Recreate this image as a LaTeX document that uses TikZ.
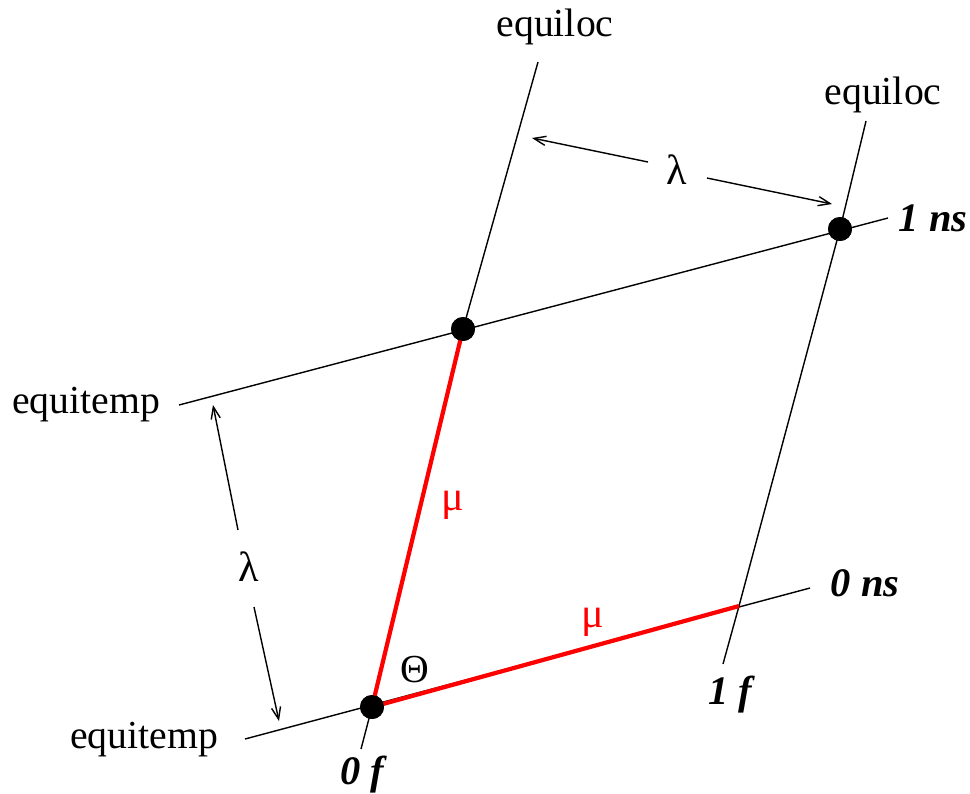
\documentclass[tikz,border=0pt]{standalone}
\usepackage{fontspec}
\setmainfont{Liberation Serif}
\usetikzlibrary{arrows.meta}

\begin{document}
\begin{tikzpicture}[x=0.01cm,y=-0.01cm]
\tikzset{
  dotnode/.style={circle,fill=black,minimum size=6.8pt,inner sep=0pt},
  gridline/.style={line width=0.4pt},
  muline/.style={red,line width=1.2pt},
  lamarrow/.style={-{Straight Barb[length=3.4pt,width=2.6pt]},line width=0.4pt},
  txtlabel/.style={inner sep=0pt,font=\fontsize{11.3}{13}\selectfont},
  ticklabel/.style={inner sep=0pt,font=\fontsize{11.5}{13}\selectfont\bfseries\itshape},
  greeklabel/.style={inner sep=0pt,font=\fontsize{12}{14}\selectfont}
}
\useasboundingbox (0,0) rectangle (970,793);
% ends of the equitemp and equiloc lines
\coordinate (t0_w) at (245,739);
\coordinate (t0_e) at (810,588);
\coordinate (t1_w) at (179,405);
\coordinate (t1_e) at (888,218);
\coordinate (l0_s) at (361,749);
\coordinate (l0_n) at (538,62);
\coordinate (l1_s) at (723,664);
\coordinate (l1_n) at (866,121);
\coordinate (x_10) at (739,606);
% dots
\node[dotnode] (d_00) at (372,707) {};
\node[dotnode] (d_01) at (463,329) {};
\node[dotnode] (d_11) at (840,229) {};
% labels
\node[txtlabel] (lb_loc0) at (555,27) {equiloc};
\node[txtlabel] (lb_loc1) at (883,95) {equiloc};
\node[txtlabel] (lb_temp1) at (86,405) {equitemp};
\node[txtlabel] (lb_temp0) at (144,740) {equitemp};
\node[ticklabel] (lb_1ns) at (933,218) {1 ns};
\node[ticklabel] (lb_0ns) at (865,583) {0 ns};
\node[ticklabel] (lb_1f) at (730,695) {1 f};
\node[ticklabel] (lb_0f) at (362,775) {0 f};
\node[txtlabel] (lb_theta) at (415,670) {Θ};
\node[greeklabel] (lb_lamt) at (677,170) {λ};
\node[greeklabel] (lb_laml) at (249,567) {λ};
\node[greeklabel,red] (lb_mul) at (453,505) {μ};
\node[greeklabel,red] (lb_mub) at (593,622) {μ};
% lines
\draw[gridline] (t0_w) -- (t0_e);
\draw[gridline] (t1_w) -- (t1_e);
\draw[gridline] (l0_s) -- (d_00.center) -- (d_01.center) -- (l0_n);
\draw[gridline] (l1_s) -- (x_10) -- (d_11.center) -- (l1_n);
\draw[muline] (d_00.center) -- (d_01.center);
\draw[muline] (d_00.center) -- (x_10);
% lambda arrows
\coordinate (at_a) at (648,162);
\coordinate (at_b) at (532,138);
\coordinate (at_c) at (707,178);
\coordinate (at_d) at (832,204);
\coordinate (al_a) at (238,530);
\coordinate (al_b) at (213,405);
\coordinate (al_c) at (254,607);
\coordinate (al_d) at (279,721);
\draw[lamarrow] (at_a) -- (at_b);
\draw[lamarrow] (at_c) -- (at_d);
\draw[lamarrow] (al_a) -- (al_b);
\draw[lamarrow] (al_c) -- (al_d);
% dots on top
\fill (d_00) circle (3.4pt);
\fill (d_01) circle (3.4pt);
\fill (d_11) circle (3.4pt);
\end{tikzpicture}
\end{document}
